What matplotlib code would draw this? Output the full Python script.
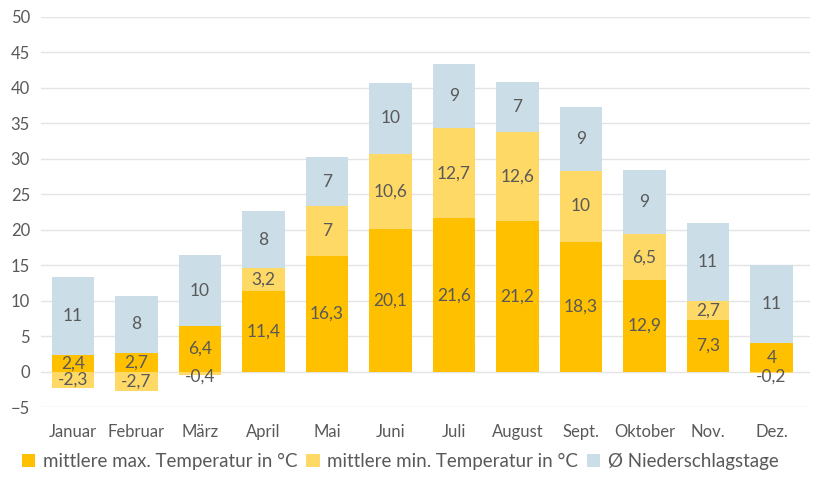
import numpy as np
import matplotlib.pyplot as plt

plt.rcParams['font.family'] = ['Lato', 'DejaVu Sans']

monate = ["Januar", "Februar", "März", "April", "Mai", "Juni", "Juli",
          "August", "Sept.", "Oktober", "Nov.", "Dez."]
t_max = [2.4, 2.7, 6.4, 11.4, 16.3, 20.1, 21.6, 21.2, 18.3, 12.9, 7.3, 4]
t_min = [-2.3, -2.7, -0.4, 3.2, 7, 10.6, 12.7, 12.6, 10, 6.5, 2.7, -0.2]
regen = [11, 8, 10, 8, 7, 10, 9, 7, 9, 9, 11, 11]

c_max = '#FFC000'
c_min = '#FFD966'
c_regen = '#CBDDE7'
grau = '#595959'

fig = plt.figure(figsize=(8.22, 4.82), dpi=100)
ax = fig.add_axes([0.05, 0.155, 0.935, 0.81])

x = np.arange(len(monate))
w = 0.67
t_max = np.array(t_max)
t_min = np.array(t_min)
regen = np.array(regen)

# positive values stack upward, negative below zero (like Excel)
pos_min = np.where(t_min > 0, t_min, 0)
neg_min = np.where(t_min < 0, t_min, 0)
b_max = ax.bar(x, t_max, w, color=c_max, zorder=2)
b_min_pos = ax.bar(x, pos_min, w, bottom=t_max, color=c_min, zorder=2)
b_min_neg = ax.bar(x, neg_min, w, bottom=0, color=c_min, zorder=2)
b_regen = ax.bar(x, regen, w, bottom=t_max + pos_min, color=c_regen, zorder=2)

def fmt(v):
    s = ('%g' % v).replace('.', ',')
    return s

fs = 12.5
for i in range(len(monate)):
    ax.text(x[i], t_max[i] / 2, fmt(t_max[i]), ha='center', va='center',
            color=grau, fontsize=fs, zorder=4)
    if t_min[i] > 0:
        ax.text(x[i], t_max[i] + t_min[i] / 2, fmt(t_min[i]), ha='center',
                va='center', color=grau, fontsize=fs, zorder=4)
    else:
        yy = t_min[i] / 2
        if abs(t_min[i]) < 1:
            yy = -0.7
        ax.text(x[i], yy, fmt(t_min[i]), ha='center', va='center',
                color=grau, fontsize=fs, zorder=4)
    ax.text(x[i], t_max[i] + pos_min[i] + regen[i] / 2, fmt(regen[i]),
            ha='center', va='center', color=grau, fontsize=fs, zorder=4)

ax.set_ylim(-5, 50)
ax.set_yticks(range(-5, 51, 5))
ax.set_xlim(-0.5, 11.6)
ax.set_xticks(x)
ax.set_xticklabels(monate)
ax.grid(axis='y', color='#d9d9d9', linewidth=1, zorder=3, alpha=0.7)
ax.tick_params(length=0, labelsize=12, labelcolor=grau, pad=8)
ax.tick_params(axis='x', pad=12)
for s in ax.spines.values():
    s.set_visible(False)

leg = fig.legend([b_max, b_min_pos, b_regen],
                 ["mittlere max. Temperatur in °C", "mittlere min. Temperatur in °C",
                  "Ø Niederschlagstage"],
                 loc='center', bbox_to_anchor=(0.487, 0.043), ncol=3, frameon=False,
                 fontsize=13.5, handlelength=0.7, handleheight=0.7,
                 handletextpad=0.4, columnspacing=0.5)
for t in leg.get_texts():
    t.set_color(grau)

fig.savefig('out.png', dpi=100)
